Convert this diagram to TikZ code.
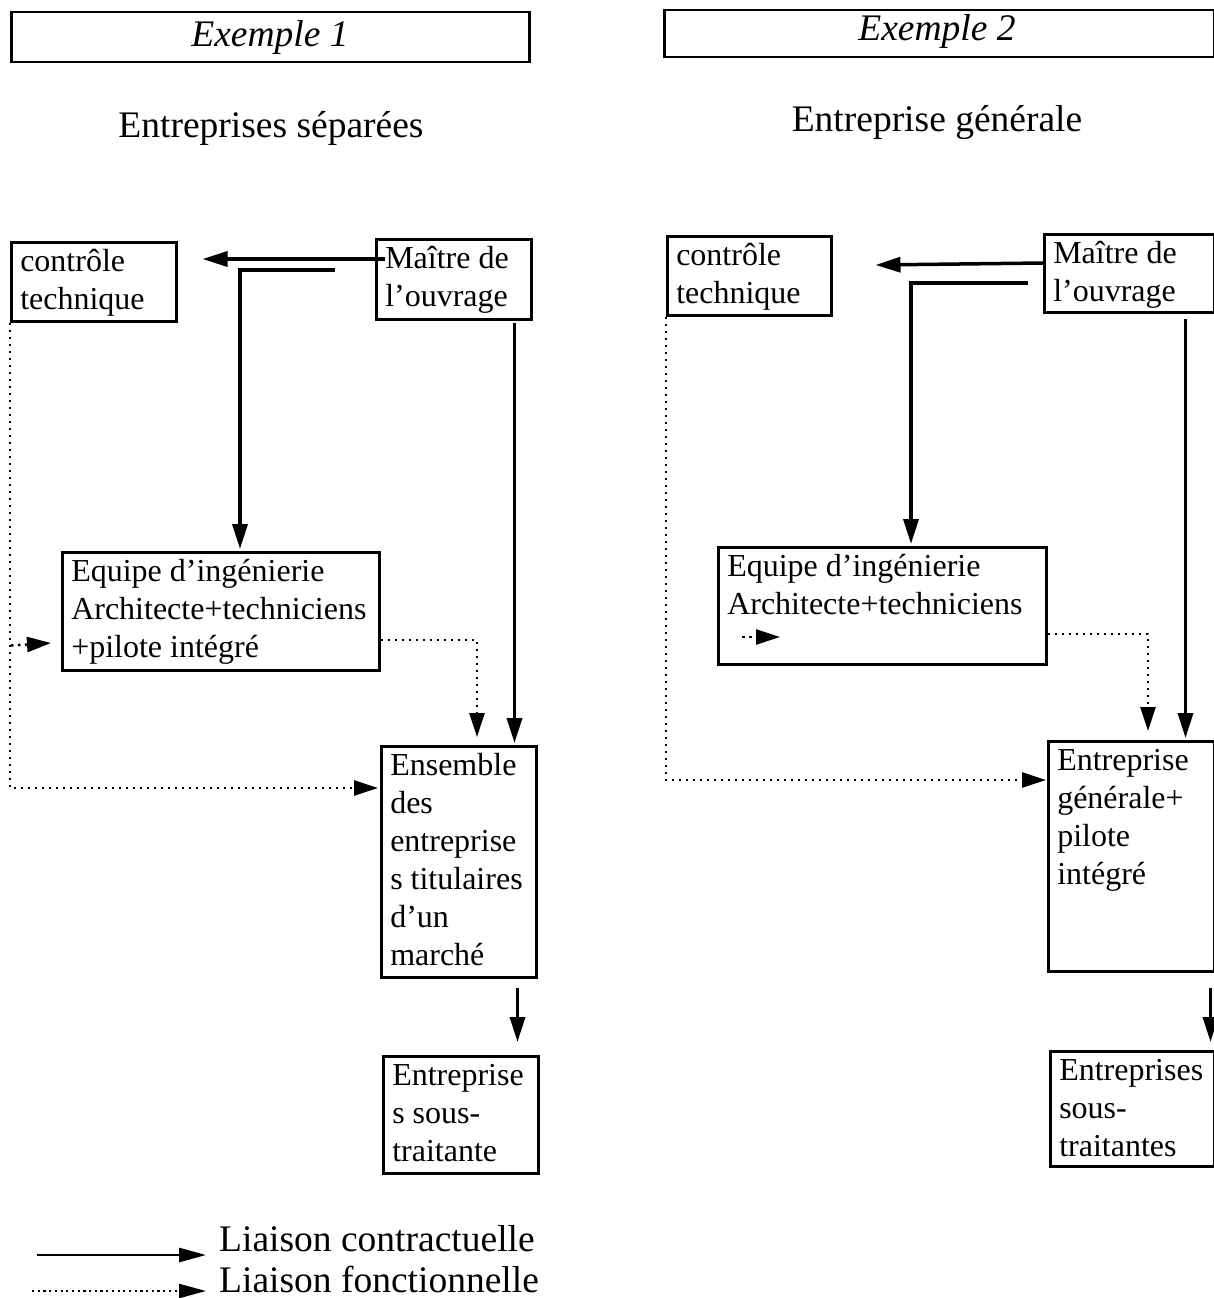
\documentclass[tikz,border=0pt]{standalone}
\usepackage{fontspec}
\setmainfont{Liberation Serif}
\usetikzlibrary{arrows.meta,calc}
\newcommand{\boxfont}{\fontsize{32}{38}\selectfont}
\newcommand{\titlefont}{\fontsize{37.5}{44}\selectfont}
\newcommand{\bxt}[3]{\parbox[c][#2][t]{#1}{\raggedright\hyphenpenalty=10000\exhyphenpenalty=10000\strut #3}}
\begin{document}
\begin{tikzpicture}[x=1pt,y=-1pt,
  box/.style={draw, line width=2.5pt, inner xsep=9pt, inner ysep=3pt, anchor=north west, font=\boxfont},
  hbox/.style={draw, line width=2.5pt, inner sep=0pt, anchor=north west},
  carrow/.style={line width=3.5pt, -{Triangle[length=25pt,width=15pt]}},
  farrow/.style={line width=2.5pt, dash pattern=on 2.5pt off 4.5pt, -{Triangle[length=24pt,width=15pt]}},
  ttl/.style={font=\titlefont, inner sep=0pt}
]
\useasboundingbox (0,0) rectangle (1214,1298);

% headers
\node[hbox, minimum width=518pt, minimum height=50pt] (ex1) at (10,11) {};
\node[ttl, anchor=base] at (270,47) {\itshape Exemple 1};
\node[hbox, minimum width=550pt, minimum height=47pt] (ex2) at (663,9) {};
\node[ttl, anchor=base] at (937,41) {\itshape Exemple 2};
\node[ttl, anchor=base] (t1) at (271,137) {Entreprises séparées};
\node[ttl, anchor=base] (t2) at (937,131) {Entreprise générale};

% left diagram
\node[box] (ct1) at (10,241) {\bxt{147pt}{73pt}{contrôle\\technique}};
\node[box] (mo1) at (375,238) {\bxt{137pt}{74pt}{Maître de\\l’ouvrage}};
\node[box] (eq1) at (61,551) {\bxt{299pt}{112pt}{Equipe d’ingénierie\\Architecte+techniciens\\+pilote intégré}};
\node[box] (ens1) at (380,745) {\bxt{137pt}{225pt}{Ensemble\\des\\entreprise\\s titulaires\\d’un\\marché}};
\node[box] (sst1) at (382,1055) {\bxt{137pt}{111pt}{Entreprise\\s sous-\\traitante}};

\draw[carrow] ($(mo1.north west)+(10,21)$) -- ($(ct1.north east)+(25,18)$);
\draw[carrow] ($(mo1.north west)+(-40,32)$) -| ($(eq1.north west)+(179,-2)$);
\draw[carrow] ($(mo1.south east)+(-18,2)$) -- ($(ens1.north east)+(-23,-2)$);
\draw[farrow] ($(eq1.north east)+(0,89)$) -| ($(ens1.north west)+(97,-8)$);
\draw[farrow] (ct1.south west) |- ($(ens1.north west)+(-2,43)$);
\draw[farrow] ($(ct1.south west)+(1,323)$) -- ($(eq1.north west)+(-10,92)$);
\draw[carrow] ($(ens1.south east)+(-20,9)$) -- ($(sst1.north east)+(-22,-13)$);

% right diagram
\node[box] (ct2) at (666,235) {\bxt{146pt}{73pt}{contrôle\\technique}};
\node[box] (mo2) at (1043,233) {\bxt{152pt}{72pt}{Maître de\\l’ouvrage}};
\node[box] (eq2) at (717,546) {\bxt{310pt}{111pt}{Equipe d’ingénierie\\Architecte+techniciens}};
\node[box] (eg2) at (1047,740) {\bxt{148pt}{224pt}{Entreprise\\générale+\\pilote\\intégré}};
\node[box] (sst2) at (1049,1050) {\bxt{146pt}{109pt}{Entreprises\\sous-\\traitantes}};

\draw[carrow] ($(mo2.north west)+(0,30)$) -- ($(ct2.north east)+(43,30)$);
\draw[carrow] ($(mo2.north west)+(-15,50)$) -| ($(eq2.north west)+(194,-2)$);
\draw[carrow] ($(mo2.south east)+(-30,5)$) -- ($(eg2.north east)+(-30,-2)$);
\draw[farrow] ($(eq2.north east)+(0,88)$) -| ($(eg2.north west)+(101,-9)$);
\draw[farrow] (ct2.south west) |- ($(eg2.north west)+(-1,40)$);
\draw[farrow] ($(eq2.north west)+(25,91)$) -- ($(eq2.north west)+(63,91)$);
\draw[carrow] ($(eg2.south east)+(-5,15)$) -- ($(sst2.north east)+(-5,-8)$);

% legend
\coordinate (l1a) at (37,1255);
\coordinate (l1b) at (206,1255);
\coordinate (l2a) at (32,1291);
\coordinate (l2b) at (206,1291);
\draw[line width=2.8pt, -{Triangle[length=27pt,width=14pt]}] (l1a) -- (l1b);
\draw[line width=2.2pt, dash pattern=on 2.2pt off 3.5pt, -{Triangle[length=27pt,width=14pt]}] (l2a) -- (l2b);
\node[ttl, anchor=base west] (lg1) at (219,1251) {Liaison contractuelle};
\node[ttl, anchor=base west] (lg2) at (219,1292) {Liaison fonctionnelle};
\end{tikzpicture}
\end{document}
